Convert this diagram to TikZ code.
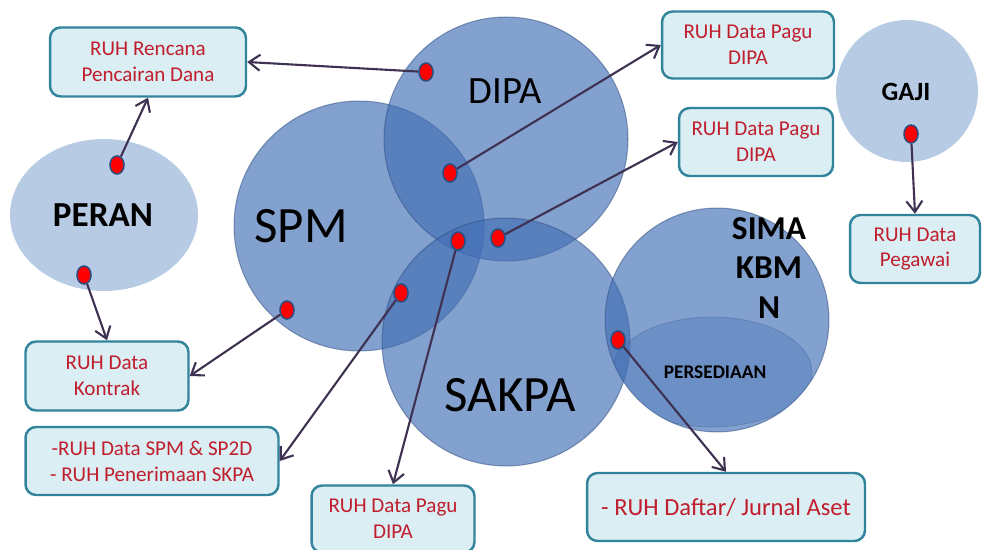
\documentclass[tikz,border=0pt]{standalone}
\usepackage{fontspec}
\setmainfont{Carlito}
\usetikzlibrary{arrows.meta,shapes.geometric}
\definecolor{discblue}{RGB}{65,110,180}
\definecolor{paleblue}{RGB}{184,203,228}
\definecolor{boxfill}{RGB}{218,238,243}
\definecolor{boxedge}{RGB}{49,132,155}
\definecolor{ruhred}{RGB}{192,30,45}
\definecolor{arrowcol}{RGB}{63,49,81}

\begin{document}
\begin{tikzpicture}[x=0.02cm, y=-0.02cm, >={Straight Barb[length=2.2mm,width=3.2mm]},
  disc/.style={circle, fill=discblue, fill opacity=0.65, draw=discblue!70!black, draw opacity=0.5, line width=0.6pt, inner sep=0},
  pale/.style={fill=paleblue, inner sep=0},
  ruh/.style={draw=boxedge, line width=1.4pt, fill=boxfill, rounded corners=6pt, text=ruhred, align=center, inner sep=2pt, font=\fontsize{12}{14.7}\selectfont},
  reddot/.style={ellipse, fill=red, draw=discblue!70!black, line width=0.9pt, minimum width=0.28cm, minimum height=0.36cm, inner sep=0},
  link/.style={->, draw=arrowcol, line width=1.2pt}]

\useasboundingbox (0,0) rectangle (982,550);

% light circles
\node[pale, ellipse, minimum width=3.76cm, minimum height=3.04cm] (peran) at (104,215) {};
\node[pale, circle, minimum size=2.84cm] (gaji) at (907,91) {};

% overlapping circles
\node[disc, minimum size=5cm] (spm) at (359,226) {};
\node[disc, minimum size=4.88cm] (dipa) at (506,139) {};
\node[disc, minimum size=4.96cm] (sakpa) at (506,342) {};
\node[disc, minimum size=4.48cm] (sima) at (717,320) {};
\begin{scope}
  \clip (717,320) circle[radius=112];
  \node[ellipse, fill=discblue, fill opacity=0.35, draw=discblue!70!black, draw opacity=0.3, minimum width=4cm, minimum height=2.2cm, inner sep=0] (pers) at (712,372) {};
\end{scope}

% labels
\node[font=\bfseries\fontsize{20}{24}\selectfont] (peranlbl) at (103,215) {PERAN};
\node[font=\bfseries\fontsize{15}{18}\selectfont] (gajilbl) at (906,92) {GAJI};
\node[font=\fontsize{29}{34}\selectfont] (spmlbl) at (301,226) {SPM};
\node[font=\fontsize{22}{26}\selectfont] (dipalbl) at (505,91) {DIPA};
\node[font=\fontsize{29}{34}\selectfont] (sakpalbl) at (510,395) {SAKPA};
\node[font=\bfseries\fontsize{19}{22.7}\selectfont, align=center] (simalbl) at (769,268) {SIMA\\KBM\\N};
\node[font=\bfseries\fontsize{11}{13}\selectfont] (perslbl) at (715,372) {PERSEDIAAN};

% boxes
\node[ruh, minimum width=3.92cm, minimum height=1.38cm] (b1) at (148,62) {RUH Rencana\\Pencairan Dana};
\node[ruh, minimum width=3.44cm, minimum height=1.34cm] (b2) at (748,45) {RUH Data Pagu\\DIPA};
\node[ruh, minimum width=3.08cm, minimum height=1.36cm] (b3) at (756,142) {RUH Data Pagu\\DIPA};
\node[ruh, minimum width=2.6cm, minimum height=1.36cm] (b4) at (915,249) {RUH Data\\Pegawai};
\node[ruh, minimum width=3.26cm, minimum height=1.38cm] (b5) at (107,376) {RUH Data\\Kontrak};
\node[ruh, minimum width=5.06cm, minimum height=1.36cm] (b6) at (152,461) {-RUH Data SPM \& SP2D\\- RUH Penerimaan SKPA};
\node[ruh, minimum width=3.26cm, minimum height=1.34cm] (b7) at (393,519) {RUH Data Pagu\\DIPA};
\node[ruh, minimum width=5.56cm, minimum height=1.36cm, font=\fontsize{14}{17}\selectfont] (b8) at (726,507) {- RUH Daftar/ Jurnal Aset};

% red dots
\node[reddot] (d1) at (426,72) {};
\node[reddot] (d2) at (117,165) {};
\node[reddot] (d3) at (84,275) {};
\node[reddot] (d4) at (450,173) {};
\node[reddot] (d5) at (498,238) {};
\node[reddot] (d6) at (458,241) {};
\node[reddot] (d7) at (401,293) {};
\node[reddot] (d8) at (287,310) {};
\node[reddot] (d9) at (911,134) {};
\node[reddot] (d10) at (618,340) {};

% arrows
\draw[link] (d1) -- (b1.east);
\draw[link] (d2) -- (b1.south);
\draw[link] (d3) -- (b5.north);
\draw[link] (d4) -- (b2.west);
\draw[link] (d5) -- (b3.west);
\draw[link] (d6) -- (b7.north);
\draw[link] (d7) -- (b6.east);
\draw[link] (d8) -- (b5.east);
\draw[link] (d9) -- (b4.north);
\draw[link] (d10) -- (b8.north);
\end{tikzpicture}
\end{document}
